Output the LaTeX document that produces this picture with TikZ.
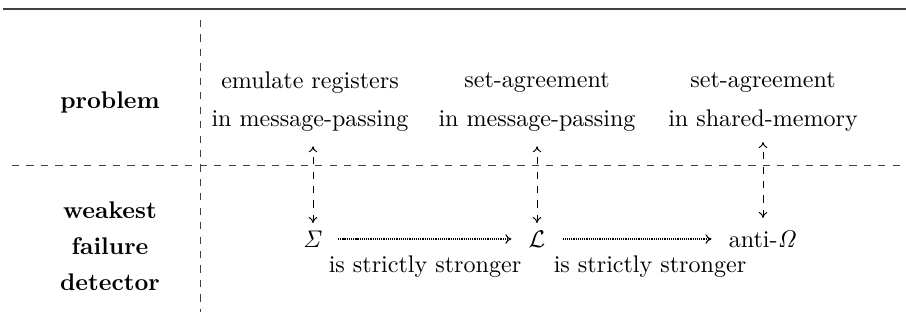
\documentclass[tikz,border=0pt]{standalone}
\usetikzlibrary{arrows.meta}
\begin{document}
\begin{tikzpicture}[x=0.4156pt,y=-0.4156pt,
  lbl/.style={font=\bfseries, inner sep=1pt},
  txt/.style={inner sep=1pt},
  sep/.style={dashed, line width=0.4pt, draw=black!75},
  dep/.style={dashed, line width=0.4pt, {To[length=2.5pt,width=3.5pt]}-{To[length=2.5pt,width=3.5pt]}},
  strong/.style={dash pattern=on 0.5pt off 0.4pt, line width=0.45pt, -{To[length=2.5pt,width=4pt]}}]
\useasboundingbox (0,0) rectangle (906,330);
% rules
\draw[line width=0.8pt, black!75] (3,9) -- (906,9);
\draw[sep] (200,20) -- (200,312);
\draw[sep] (12,165) -- (906,165);
% row labels
\node[lbl] (prob) at (110,102) {problem};
\node[lbl] (wk) at (110,210) {weakest};
\node[lbl] (fl) at (110,246) {failure};
\node[lbl] (dt) at (110,282) {detector};
% problems
\node[txt] (p1a) at (310,83) {emulate registers};
\node[txt] (p1b) at (310,121) {in message-passing};
\node[txt] (p2a) at (537,83) {set-agreement};
\node[txt] (p2b) at (537,121) {in message-passing};
\node[txt] (p3a) at (763,83) {set-agreement};
\node[txt] (p3b) at (763,121) {in shared-memory};
% failure detectors
\node[txt] (sig) at (313,239) {$\mathit{\Sigma}$};
\node[txt] (L) at (537,239) {$\mathcal{L}$};
\node[txt] (aom) at (763,239) {anti-$\mathit{\Omega}$};
\node[txt] (s1) at (425,267) {is strictly stronger};
\node[txt] (s2) at (650,267) {is strictly stronger};
\coordinate (a3b) at (763,218);
\coordinate (a3t) at (763,142);
% connectors
\draw[dep] ([yshift=2pt]sig.north) -- ([yshift=-5pt]sig.north |- p1b.south);
\draw[dep] ([yshift=2pt]L.north) -- ([yshift=-5pt]L.north |- p2b.south);
\draw[dep] (a3b) -- (a3t);
\draw[strong] ([xshift=5pt]sig.east) -- ([xshift=-6pt]L.west);
\draw[strong] ([xshift=6pt]L.east) -- ([xshift=-6pt]aom.west);
\end{tikzpicture}
\end{document}
